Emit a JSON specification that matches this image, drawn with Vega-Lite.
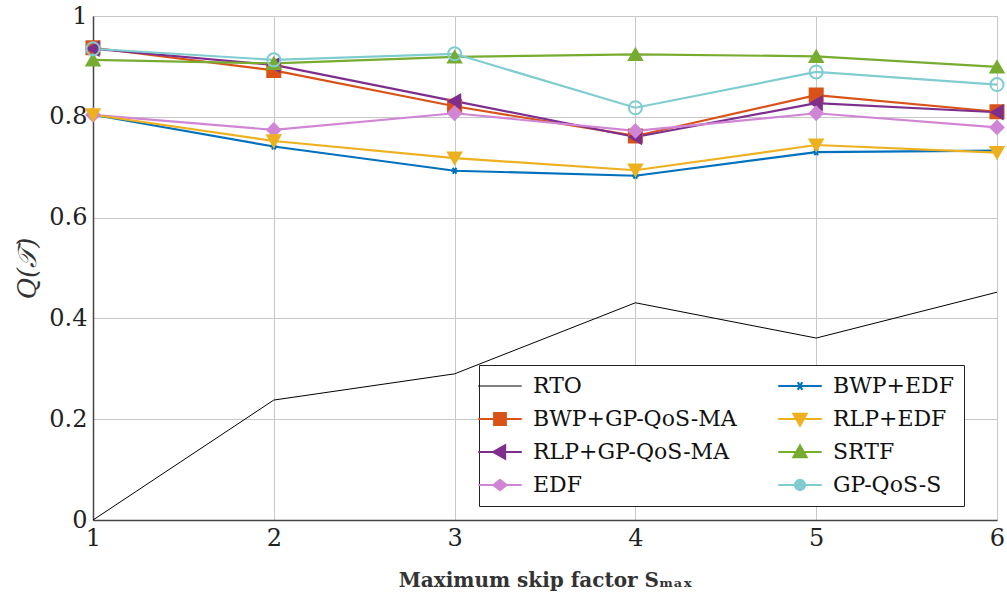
{
  "$schema": "https://vega.github.io/schema/vega-lite/v6.json",
  "autosize": "none",
  "width": 904,
  "height": 504,
  "padding": {"left": 93, "top": 16, "right": 10, "bottom": 84},
  "background": "white",
  "config": {
    "font": "DejaVu Serif",
    "view": {"stroke": "#c8c8c8", "strokeWidth": 1},
    "axis": {
      "labelFont": "DejaVu Serif",
      "labelFontSize": 24,
      "labelColor": "#222",
      "titleFont": "DejaVu Serif",
      "titleColor": "#333",
      "gridColor": "#c8c8c8",
      "gridWidth": 1,
      "domainColor": "#444",
      "domainWidth": 1.5,
      "ticks": false,
      "labelFlush": false
    },
    "legend": {
      "orient": "none",
      "legendX": 386,
      "legendY": 349,
      "columns": 2,
      "title": null,
      "labelFont": "DejaVu Serif",
      "labelFontSize": 22,
      "labelColor": "#111",
      "strokeColor": "#222",
      "fillColor": "white",
      "padding": 10,
      "rowPadding": 11,
      "columnPadding": 36,
      "symbolSize": 841,
      "symbolStrokeWidth": 2.2,
      "labelOffset": 22,
      "labelLimit": 400
    }
  },
  "data": {
    "values": [
      {"s": 1, "series": "RTO", "q": 0.0},
      {"s": 2, "series": "RTO", "q": 0.238},
      {"s": 3, "series": "RTO", "q": 0.29},
      {"s": 4, "series": "RTO", "q": 0.431},
      {"s": 5, "series": "RTO", "q": 0.361},
      {"s": 6, "series": "RTO", "q": 0.452},
      {"s": 1, "series": "BWP+GP-QoS-MA", "q": 0.937},
      {"s": 2, "series": "BWP+GP-QoS-MA", "q": 0.892},
      {"s": 3, "series": "BWP+GP-QoS-MA", "q": 0.821},
      {"s": 4, "series": "BWP+GP-QoS-MA", "q": 0.762},
      {"s": 5, "series": "BWP+GP-QoS-MA", "q": 0.843},
      {"s": 6, "series": "BWP+GP-QoS-MA", "q": 0.81},
      {"s": 1, "series": "RLP+GP-QoS-MA", "q": 0.935},
      {"s": 2, "series": "RLP+GP-QoS-MA", "q": 0.903},
      {"s": 3, "series": "RLP+GP-QoS-MA", "q": 0.831},
      {"s": 4, "series": "RLP+GP-QoS-MA", "q": 0.76},
      {"s": 5, "series": "RLP+GP-QoS-MA", "q": 0.827},
      {"s": 6, "series": "RLP+GP-QoS-MA", "q": 0.809},
      {"s": 1, "series": "EDF", "q": 0.804},
      {"s": 2, "series": "EDF", "q": 0.774},
      {"s": 3, "series": "EDF", "q": 0.807},
      {"s": 4, "series": "EDF", "q": 0.772},
      {"s": 5, "series": "EDF", "q": 0.807},
      {"s": 6, "series": "EDF", "q": 0.779},
      {"s": 1, "series": "BWP+EDF", "q": 0.804},
      {"s": 2, "series": "BWP+EDF", "q": 0.741},
      {"s": 3, "series": "BWP+EDF", "q": 0.693},
      {"s": 4, "series": "BWP+EDF", "q": 0.683},
      {"s": 5, "series": "BWP+EDF", "q": 0.73},
      {"s": 6, "series": "BWP+EDF", "q": 0.733},
      {"s": 1, "series": "RLP+EDF", "q": 0.804},
      {"s": 2, "series": "RLP+EDF", "q": 0.752},
      {"s": 3, "series": "RLP+EDF", "q": 0.718},
      {"s": 4, "series": "RLP+EDF", "q": 0.694},
      {"s": 5, "series": "RLP+EDF", "q": 0.744},
      {"s": 6, "series": "RLP+EDF", "q": 0.729},
      {"s": 1, "series": "SRTF", "q": 0.913},
      {"s": 2, "series": "SRTF", "q": 0.906},
      {"s": 3, "series": "SRTF", "q": 0.919},
      {"s": 4, "series": "SRTF", "q": 0.924},
      {"s": 5, "series": "SRTF", "q": 0.92},
      {"s": 6, "series": "SRTF", "q": 0.899},
      {"s": 1, "series": "GP-QoS-S", "q": 0.935},
      {"s": 2, "series": "GP-QoS-S", "q": 0.913},
      {"s": 3, "series": "GP-QoS-S", "q": 0.925},
      {"s": 4, "series": "GP-QoS-S", "q": 0.818},
      {"s": 5, "series": "GP-QoS-S", "q": 0.889},
      {"s": 6, "series": "GP-QoS-S", "q": 0.864}
    ]
  },
  "encoding": {
    "x": {
      "field": "s", "type": "quantitative",
      "scale": {"domain": [1, 6], "nice": false},
      "axis": {"values": [1, 2, 3, 4, 5, 6], "title": "Maximum skip factor Sₘₐₓ", "titleFontSize": 20, "titleFontWeight": "bold", "titlePadding": 20, "labelPadding": 6}
    },
    "y": {
      "field": "q", "type": "quantitative",
      "scale": {"domain": [0, 1], "nice": false},
      "axis": {"values": [0, 0.2, 0.4, 0.6, 0.8, 1], "format": "~g", "title": "Q(𝒯)", "titleFontSize": 26, "titleFontStyle": "italic", "titleFontWeight": "normal", "titlePadding": 8, "labelPadding": 6}
    }
  },
  "layer": [
    {
      "transform": [{"filter": "datum.series === 'RTO'"}],
      "mark": {"type": "line", "strokeWidth": 1},
      "encoding": {
        "color": {"field": "series", "type": "nominal", "scale": {"domain": ["RTO", "BWP+GP-QoS-MA", "RLP+GP-QoS-MA", "EDF", "BWP+EDF", "RLP+EDF", "SRTF", "GP-QoS-S"], "range": ["#000000", "#D95319", "#7E2F8E", "#D085D5", "#0072BD", "#EDB120", "#77AC30", "#80CDD0"]},
          "legend": {
            "symbolType": "stroke",
            "encode": {
              "symbols": {
                "update": {
                  "shape": {"signal": "datum.value === 'RTO' ? 'M-1.5,0H1.5' : datum.value === 'BWP+EDF' ? 'M-1.5,0H1.5M-0.3,0H0.3M-0.15,-0.26L0.15,0.26M-0.15,0.26L0.15,-0.26' : datum.value === 'BWP+GP-QoS-MA' ? 'M-1.5,0H1.5M-0.4,-0.4H0.4V0.4H-0.4Z' : datum.value === 'RLP+EDF' ? 'M-1.5,0H1.5M-0.45,-0.35H0.45L0,0.45Z' : datum.value === 'RLP+GP-QoS-MA' ? 'M-1.5,0H1.5M-0.45,0L0.35,-0.45V0.45Z' : datum.value === 'SRTF' ? 'M-1.5,0H1.5M-0.45,0.35H0.45L0,-0.45Z' : datum.value === 'EDF' ? 'M-1.5,0H1.5M-0.45,0L0,-0.35L0.45,0L0,0.35Z' : 'M-1.5,0H1.5M0.35,0A0.35,0.35,0,1,1,-0.35,0A0.35,0.35,0,1,1,0.35,0'"},
                  "fill": {"signal": "(datum.value === 'RTO' || datum.value === 'GP-QoS-S') ? 'transparent' : scale('color', datum.value)"},
                  "stroke": {"signal": "scale('color', datum.value)"},
                  "strokeWidth": {"signal": "datum.value === 'RTO' ? 1 : 2.2"},
                  "opacity": {"value": 1}
                }
              }
            }
          }
        }
      }
    },
    {
      "transform": [{"filter": "datum.series !== 'RTO'"}],
      "mark": {"type": "line", "strokeWidth": 2.2},
      "encoding": {
        "color": {"field": "series", "type": "nominal"}
      }
    },
    {
      "transform": [{"filter": "datum.series !== 'RTO'"}],
      "mark": {"type": "point", "filled": true, "opacity": 1, "strokeWidth": 2},
      "encoding": {
        "color": {"field": "series", "type": "nominal"},
        "stroke": {"field": "series", "type": "nominal", "legend": null, "scale": {"domain": ["RTO", "BWP+GP-QoS-MA", "RLP+GP-QoS-MA", "EDF", "BWP+EDF", "RLP+EDF", "SRTF", "GP-QoS-S"], "range": ["#000000", "#D95319", "#7E2F8E", "#D085D5", "#0072BD", "#EDB120", "#77AC30", "#80CDD0"]}},
        "fillOpacity": {"condition": {"test": "datum.series === 'GP-QoS-S'", "value": 0}, "value": 1},
        "shape": {"field": "series", "type": "nominal", "legend": null,
          "scale": {"domain": ["BWP+EDF", "BWP+GP-QoS-MA", "RLP+EDF", "RLP+GP-QoS-MA", "SRTF", "EDF", "GP-QoS-S"],
            "range": ["M-1,0H1M-0.5,-0.87L0.5,0.87M-0.5,0.87L0.5,-0.87", "square", "triangle-down", "triangle-left", "triangle-up", "diamond", "circle"]}},
        "size": {"condition": {"test": "datum.series === 'BWP+EDF'", "value": 50}, "value": 170}
      }
    }
  ]
}
